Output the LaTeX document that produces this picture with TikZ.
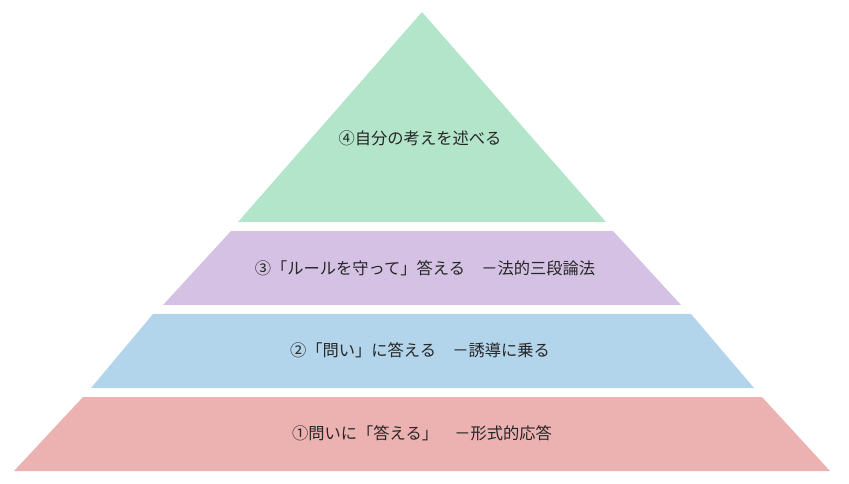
\documentclass[tikz,border=0pt]{standalone}
\usepackage{fontspec}
\newfontfamily\jpfont{Noto Sans CJK JP}
\usepackage{tikz}
\usetikzlibrary{positioning}

\definecolor{levelgreen}{HTML}{B2E5CA}
\definecolor{levelpurple}{HTML}{D4C1E3}
\definecolor{levelblue}{HTML}{B3D5EC}
\definecolor{levelpink}{HTML}{EBB2B1}

\begin{document}
\begin{tikzpicture}[x=0.75pt, y=-0.75pt,
  layer/.style={draw=none},
  label/.style={font=\jpfont\fontsize{12.2}{14}\selectfont, text=black!85, inner sep=0pt}
]
  \useasboundingbox (0,0) rectangle (849,484);

  % pyramid levels, top to bottom
  \fill[layer, levelgreen]  (422,12) -- (606,222) -- (238,222) -- cycle;
  \fill[layer, levelpurple] (231,231) -- (613,231) -- (681,305) -- (163,305) -- cycle;
  \fill[layer, levelblue]   (153,314) -- (691,314) -- (754,388) -- (91,388) -- cycle;
  \fill[layer, levelpink]   (83,397) -- (762,397) -- (830,471) -- (14,471) -- cycle;

  % level texts
  \node[label] (t4) at (420,138) {④自分の考えを述べる};
  \node[label] (t3) at (425,268) {③「ルールを守って」答える　－法的三段論法};
  \node[label] (t2) at (420,350) {②「問い」に答える　－誘導に乗る};
  \node[label] (t1) at (422,433) {①問いに「答える」　－形式的応答};
\end{tikzpicture}
\end{document}
